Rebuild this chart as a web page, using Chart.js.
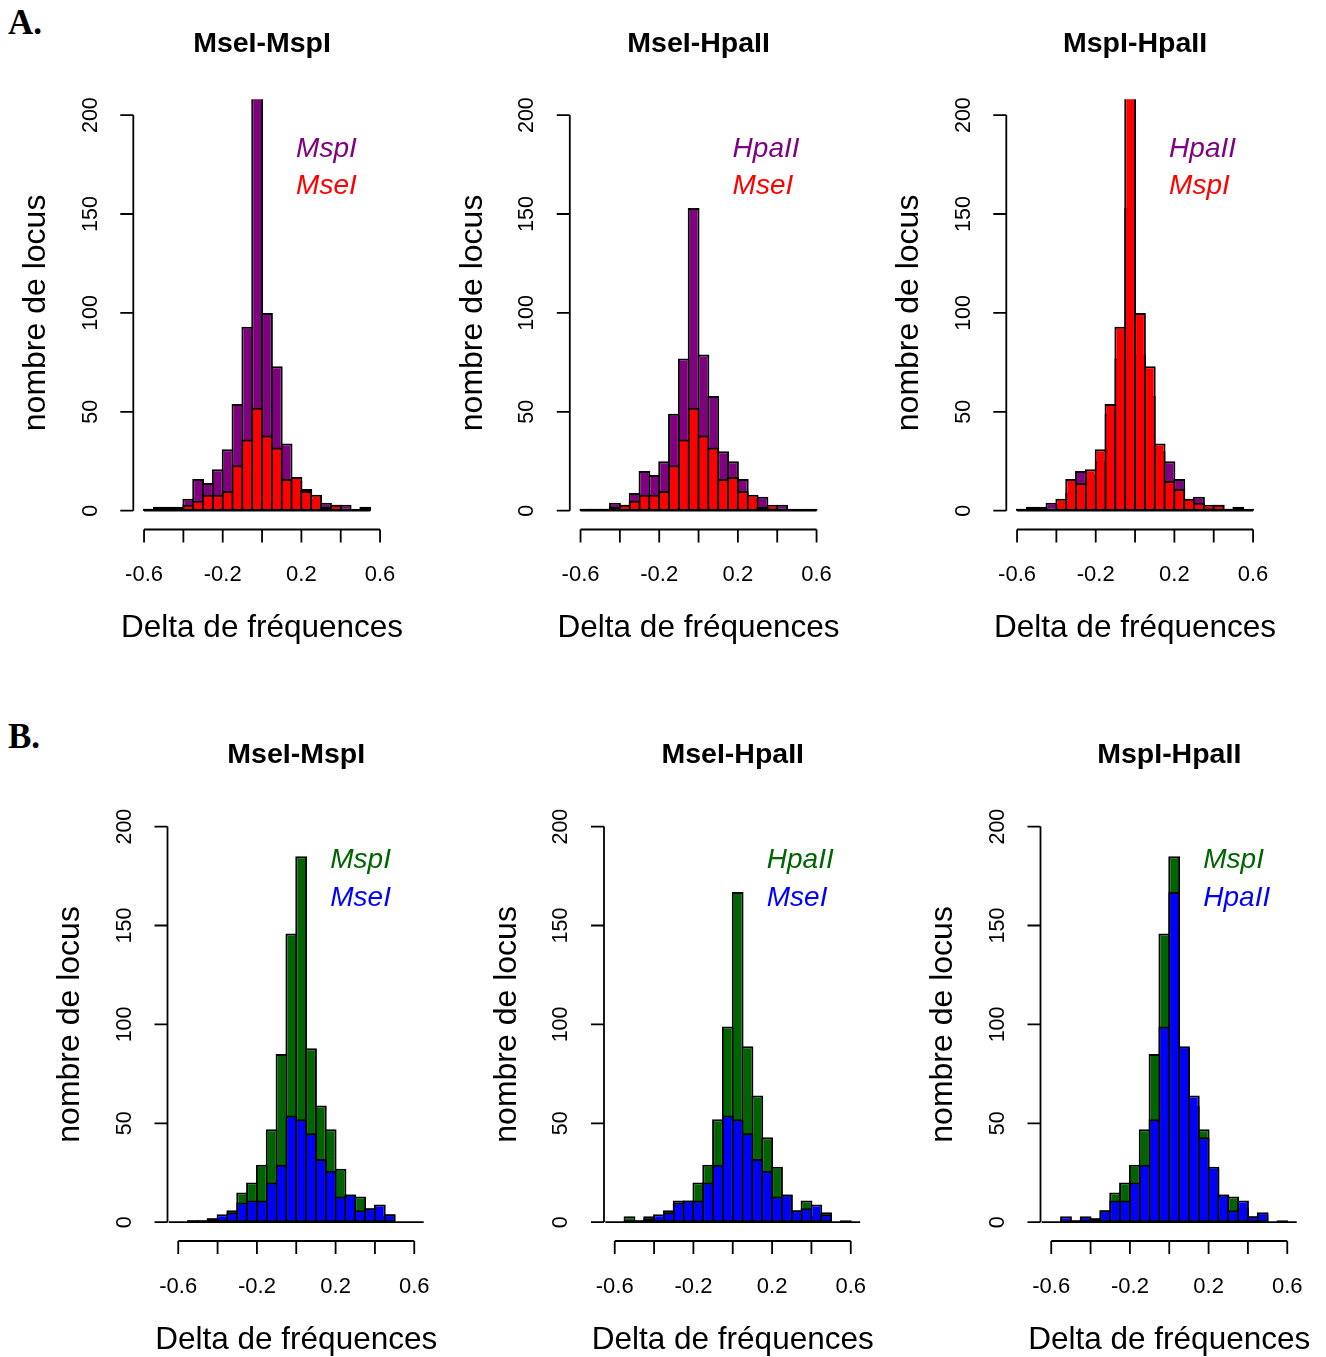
<!DOCTYPE html>
<html><head><meta charset="utf-8">
<script src="https://cdn.jsdelivr.net/npm/chart.js@4.4.1/dist/chart.umd.min.js"></script>
<style>
html,body{margin:0;padding:0;background:#fff;overflow:hidden;width:1326px;height:1357px}
canvas{position:absolute}
.lab{position:absolute;font-family:"Liberation Serif","Times New Roman",serif;font-weight:bold;font-size:35px;line-height:1}
</style></head><body>
<div class="lab" style="left:8px;top:5px">A.</div>
<div class="lab" style="left:8px;top:719px">B.</div>
<script>
// ---------- data ----------
const binCenters = [-0.575,-0.525,-0.475,-0.425,-0.375,-0.325,-0.275,-0.225,-0.175,-0.125,-0.075,-0.025,
                    0.025,0.075,0.125,0.175,0.225,0.275,0.325,0.375,0.425,0.475,0.525,0.575];
const binWidth = 0.05;
const xTicks = [-0.6,-0.4,-0.2,0,0.2,0.4,0.6];
const xTickLabels = ['-0.6','','-0.2','','0.2','','0.6'];
const yTicks = [0,50,100,150,200];
const yTickLabels = ['0','50','100','150','200'];
const panelTitles = ['MseI-MspI','MseI-HpaII','MspI-HpaII'];
const xTitle = 'Delta de fréquences';
const yTitle = 'nombre de locus';

// Row A (purple / red)
const mspI_A  = [1,2,2,1,6,16,14,21,31,54,93,215,100,73,34,15,11,6,4,3,3,1,2];
const mseI_A  = [1,1,1,2,3,5,8,8,10,23,36,52,38,32,16,17,10,8,2,3,1,0,1];
const hpaII_A = [1,1,1,4,3,9,20,18,25,49,77,153,79,58,30,25,16,6,7,2,3,1,0,1];
// Row B (green / blue)
const mseI_B  = [0,1,1,2,4,5,10,11,11,20,29,54,52,45,32,26,13,14,6,7,9,4,0,0];
const mspI_B  = [0,1,1,2,2,6,15,20,29,47,85,146,185,88,59,47,27,14,13,7,3,4,0,0];
const hpaII_B = [0,3,1,3,2,6,11,11,20,29,52,99,167,89,64,43,28,14,6,11,3,5,0,1];

const PURPLE = '#800080', RED = '#FF0000', GREEN = '#006400', BLUE = '#0000FF';

const panels = [
  {row:0,col:0,back:{label:'MspI', data:mspI_A, color:PURPLE}, front:{label:'MseI', data:mseI_A, color:RED}},
  {row:0,col:1,back:{label:'HpaII',data:hpaII_A,color:PURPLE}, front:{label:'MseI', data:mseI_A, color:RED}},
  {row:0,col:2,back:{label:'HpaII',data:hpaII_A,color:PURPLE}, front:{label:'MspI', data:mspI_A, color:RED}},
  {row:1,col:0,back:{label:'MspI', data:mspI_B, color:GREEN},  front:{label:'MseI', data:mseI_B, color:BLUE}},
  {row:1,col:1,back:{label:'HpaII',data:hpaII_B,color:GREEN},  front:{label:'MseI', data:mseI_B, color:BLUE}},
  {row:1,col:2,back:{label:'MspI', data:mspI_B, color:GREEN},  front:{label:'HpaII',data:hpaII_B,color:BLUE}}
];

// ---------- layout ----------
const ROW_PLOT_LEFT = [134.6, 168.8];
const ROW_PLOT_TOP = [99.3, 810.8];
const COL_STEP = 436.5;
const PLOT_W = 254.9, PLOT_H = 427.2;
const CAN_W = 436, CAN_H = 646;
const X_MIN = -0.648, X_MAX = 0.648;
const BAR_BORDER = 2;
const FONT = '"Liberation Sans", Arial, Helvetica, sans-serif';

const rStyle = {
  id: 'rStyle',
  afterDatasetsDraw(chart) {
    const o = chart.options.plugins.rStyle;
    const {ctx, chartArea: ca} = chart;
    const xs = chart.scales.x, ys = chart.scales.y;
    ctx.save();
    ctx.lineWidth = 1.8; ctx.strokeStyle = '#000'; ctx.fillStyle = '#000';
    // zero line under the histogram bins
    const y0 = ys.getPixelForValue(0);
    ctx.beginPath();
    ctx.moveTo(xs.getPixelForValue(o.baseFrom), y0);
    ctx.lineTo(xs.getPixelForValue(o.baseTo), y0);
    ctx.stroke();
    // y axis
    const ax = ca.left - 1.3;
    ctx.beginPath();
    ctx.moveTo(ax, ys.getPixelForValue(yTicks[0]));
    ctx.lineTo(ax, ys.getPixelForValue(yTicks[yTicks.length - 1]));
    yTicks.forEach(v => { const py = ys.getPixelForValue(v); ctx.moveTo(ax, py); ctx.lineTo(ax - 13, py); });
    ctx.stroke();
    ctx.font = '21.5px ' + FONT;
    ctx.textAlign = 'center'; ctx.textBaseline = 'alphabetic';
    yTicks.forEach((v, i) => {
      const py = ys.getPixelForValue(v);
      ctx.save(); ctx.translate(ax - 36.6, py); ctx.rotate(-Math.PI / 2);
      ctx.fillText(yTickLabels[i], 0, 0); ctx.restore();
    });
    // x axis
    const ay = ca.bottom + 3;
    ctx.beginPath();
    ctx.moveTo(xs.getPixelForValue(xTicks[0]), ay);
    ctx.lineTo(xs.getPixelForValue(xTicks[xTicks.length - 1]), ay);
    xTicks.forEach(v => { const px = xs.getPixelForValue(v); ctx.moveTo(px, ay); ctx.lineTo(px, ay + 13); });
    ctx.stroke();
    ctx.font = '22px ' + FONT;
    xTicks.forEach((v, i) => {
      if (xTickLabels[i]) ctx.fillText(xTickLabels[i], xs.getPixelForValue(v), ay + 51.5);
    });
    // titles
    const cx = (ca.left + ca.right) / 2, cy = (ca.top + ca.bottom) / 2;
    ctx.font = 'bold 28.5px ' + FONT;
    ctx.fillText(o.title, cx, ca.top - 47.5);
    ctx.font = '31.5px ' + FONT;
    ctx.fillText(xTitle, cx, ca.bottom + 110.5);
    ctx.font = '32px ' + FONT;
    ctx.save(); ctx.translate(ca.left - 89.5, cy); ctx.rotate(-Math.PI / 2);
    ctx.fillText(yTitle, 0, 0); ctx.restore();
    // legend
    ctx.font = 'italic 28px ' + FONT;
    ctx.textAlign = 'left';
    ctx.fillStyle = o.back.color; ctx.fillText(o.back.label, ca.left + 161.5, ca.top + 57.5);
    ctx.fillStyle = o.front.color; ctx.fillText(o.front.label, ca.left + 161.5, ca.top + 95);
    ctx.restore();
  }
};

const toXY = arr => arr.map((v, i) => ({x: binCenters[i], y: v}));
// bars overlap by the border width so adjacent outlines merge into a single line (as in R's hist)
const binPx = PLOT_W * binWidth / (X_MAX - X_MIN);
const barPct = 1 + BAR_BORDER / binPx;

panels.forEach(p => {
  const plotLeft = ROW_PLOT_LEFT[p.row] + COL_STEP * p.col;
  const plotTop = ROW_PLOT_TOP[p.row];
  const canLeft = Math.floor(plotLeft - 134);
  const canTop = Math.round(plotTop - 99.3);
  const cv = document.createElement('canvas');
  cv.width = CAN_W; cv.height = CAN_H;
  cv.style.left = canLeft + 'px'; cv.style.top = canTop + 'px';
  cv.style.width = CAN_W + 'px'; cv.style.height = CAN_H + 'px';
  document.body.appendChild(cv);
  const padL = plotLeft - canLeft, padT = plotTop - canTop;
  const nBins = Math.max(p.back.data.length, p.front.data.length);
  const ds = s => ({
    label: s.label, data: toXY(s.data), backgroundColor: s.color,
    borderColor: '#000', borderWidth: BAR_BORDER, borderSkipped: false, inflateAmount: 0,
    grouped: false, barPercentage: barPct, categoryPercentage: 1
  });
  new Chart(cv, {
    type: 'bar',
    data: {datasets: [ds(p.front), ds(p.back)]},
    options: {
      responsive: false, animation: false, devicePixelRatio: 1, events: [],
      layout: {padding: {left: padL, top: padT, right: CAN_W - padL - PLOT_W, bottom: CAN_H - padT - PLOT_H}},
      scales: {
        x: {type: 'linear', display: false, offset: false, min: X_MIN, max: X_MAX},
        y: {type: 'linear', display: false, min: -8, max: 208}
      },
      plugins: {
        legend: {display: false}, tooltip: {enabled: false}, title: {display: false},
        rStyle: {
          title: panelTitles[p.col], back: p.back, front: p.front,
          baseFrom: p.row === 0 ? binCenters[0] - binWidth / 2 : X_MIN,
          baseTo: p.row === 0 ? binCenters[nBins - 1] + binWidth / 2 : X_MAX
        }
      }
    },
    plugins: [rStyle]
  });
});
</script>
</body></html>
